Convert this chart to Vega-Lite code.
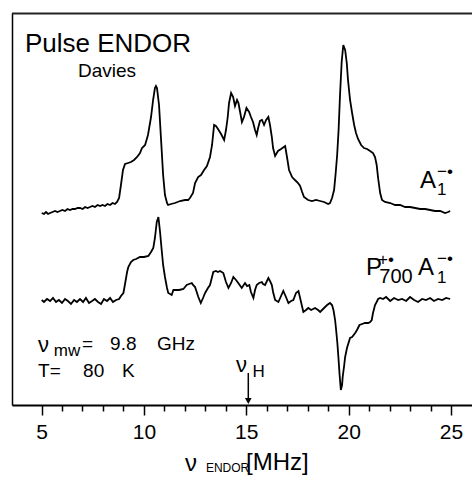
{
  "$schema": "https://vega.github.io/schema/vega-lite/v6.json",
  "width": 460,
  "height": 392,
  "autosize": "none",
  "padding": {"left": 12, "top": 13, "right": 0, "bottom": 73},
  "background": "white",
  "config": {"view": {"stroke": null}, "font": "Liberation Sans"},
  "datasets": {
    "spectra": [
      {"series":"A1","MHz":5.01,"I":192},{"series":"A1","MHz":5.12,"I":191},{"series":"A1","MHz":5.22,"I":193},{"series":"A1","MHz":5.32,"I":191},{"series":"A1","MHz":5.42,"I":192},{"series":"A1","MHz":5.54,"I":193},{"series":"A1","MHz":5.66,"I":194},{"series":"A1","MHz":5.78,"I":193},{"series":"A1","MHz":5.90,"I":194},{"series":"A1","MHz":6.02,"I":195},{"series":"A1","MHz":6.15,"I":194},{"series":"A1","MHz":6.27,"I":196},{"series":"A1","MHz":6.39,"I":195},{"series":"A1","MHz":6.52,"I":196},{"series":"A1","MHz":6.64,"I":196},{"series":"A1","MHz":6.76,"I":197},{"series":"A1","MHz":6.88,"I":197},{"series":"A1","MHz":7.01,"I":196},{"series":"A1","MHz":7.13,"I":198},{"series":"A1","MHz":7.25,"I":197},{"series":"A1","MHz":7.37,"I":198},{"series":"A1","MHz":7.49,"I":199},{"series":"A1","MHz":7.61,"I":198},{"series":"A1","MHz":7.74,"I":200},{"series":"A1","MHz":7.86,"I":199},{"series":"A1","MHz":7.98,"I":200},{"series":"A1","MHz":8.10,"I":199},{"series":"A1","MHz":8.22,"I":201},{"series":"A1","MHz":8.35,"I":200},{"series":"A1","MHz":8.47,"I":202},{"series":"A1","MHz":8.59,"I":201},{"series":"A1","MHz":8.69,"I":203},{"series":"A1","MHz":8.79,"I":207},{"series":"A1","MHz":8.88,"I":220},{"series":"A1","MHz":8.98,"I":235},{"series":"A1","MHz":9.08,"I":241},{"series":"A1","MHz":9.23,"I":242},{"series":"A1","MHz":9.37,"I":243},{"series":"A1","MHz":9.52,"I":245},{"series":"A1","MHz":9.67,"I":248},{"series":"A1","MHz":9.81,"I":252},{"series":"A1","MHz":9.91,"I":257},{"series":"A1","MHz":10.06,"I":260},{"series":"A1","MHz":10.20,"I":270},{"series":"A1","MHz":10.35,"I":288},{"series":"A1","MHz":10.45,"I":305},{"series":"A1","MHz":10.54,"I":317},{"series":"A1","MHz":10.59,"I":319},{"series":"A1","MHz":10.64,"I":317},{"series":"A1","MHz":10.74,"I":300},{"series":"A1","MHz":10.84,"I":265},{"series":"A1","MHz":10.94,"I":230},{"series":"A1","MHz":11.03,"I":210},{"series":"A1","MHz":11.13,"I":202},{"series":"A1","MHz":11.18,"I":200},{"series":"A1","MHz":11.33,"I":201},{"series":"A1","MHz":11.52,"I":202},{"series":"A1","MHz":11.77,"I":204},{"series":"A1","MHz":12.01,"I":205},{"series":"A1","MHz":12.16,"I":205},{"series":"A1","MHz":12.25,"I":207},{"series":"A1","MHz":12.40,"I":212},{"series":"A1","MHz":12.50,"I":222},{"series":"A1","MHz":12.65,"I":228},{"series":"A1","MHz":12.79,"I":230},{"series":"A1","MHz":12.94,"I":235},{"series":"A1","MHz":13.08,"I":239},{"series":"A1","MHz":13.23,"I":248},{"series":"A1","MHz":13.33,"I":260},{"series":"A1","MHz":13.43,"I":280},{"series":"A1","MHz":13.52,"I":279},{"series":"A1","MHz":13.62,"I":276},{"series":"A1","MHz":13.77,"I":271},{"series":"A1","MHz":13.92,"I":265},{"series":"A1","MHz":14.01,"I":275},{"series":"A1","MHz":14.09,"I":287},{"series":"A1","MHz":14.16,"I":302},{"series":"A1","MHz":14.26,"I":312},{"series":"A1","MHz":14.36,"I":308},{"series":"A1","MHz":14.45,"I":299},{"series":"A1","MHz":14.55,"I":305},{"series":"A1","MHz":14.62,"I":302},{"series":"A1","MHz":14.70,"I":293},{"series":"A1","MHz":14.79,"I":283},{"series":"A1","MHz":14.89,"I":288},{"series":"A1","MHz":15.01,"I":297},{"series":"A1","MHz":15.14,"I":293},{"series":"A1","MHz":15.23,"I":288},{"series":"A1","MHz":15.33,"I":283},{"series":"A1","MHz":15.43,"I":275},{"series":"A1","MHz":15.51,"I":270},{"series":"A1","MHz":15.58,"I":277},{"series":"A1","MHz":15.67,"I":284},{"series":"A1","MHz":15.77,"I":285},{"series":"A1","MHz":15.87,"I":280},{"series":"A1","MHz":15.97,"I":285},{"series":"A1","MHz":16.08,"I":288},{"series":"A1","MHz":16.16,"I":280},{"series":"A1","MHz":16.25,"I":268},{"series":"A1","MHz":16.31,"I":257},{"series":"A1","MHz":16.41,"I":249},{"series":"A1","MHz":16.55,"I":254},{"series":"A1","MHz":16.70,"I":256},{"series":"A1","MHz":16.90,"I":259},{"series":"A1","MHz":16.99,"I":248},{"series":"A1","MHz":17.09,"I":235},{"series":"A1","MHz":17.24,"I":228},{"series":"A1","MHz":17.38,"I":225},{"series":"A1","MHz":17.53,"I":222},{"series":"A1","MHz":17.63,"I":219},{"series":"A1","MHz":17.73,"I":213},{"series":"A1","MHz":17.82,"I":208},{"series":"A1","MHz":18.02,"I":205},{"series":"A1","MHz":18.21,"I":204},{"series":"A1","MHz":18.41,"I":205},{"series":"A1","MHz":18.61,"I":204},{"series":"A1","MHz":18.80,"I":203},{"series":"A1","MHz":19.00,"I":201},{"series":"A1","MHz":19.09,"I":202},{"series":"A1","MHz":19.19,"I":207},{"series":"A1","MHz":19.29,"I":215},{"series":"A1","MHz":19.36,"I":230},{"series":"A1","MHz":19.44,"I":250},{"series":"A1","MHz":19.51,"I":275},{"series":"A1","MHz":19.58,"I":310},{"series":"A1","MHz":19.66,"I":343},{"series":"A1","MHz":19.74,"I":360},{"series":"A1","MHz":19.83,"I":355},{"series":"A1","MHz":19.91,"I":342},{"series":"A1","MHz":19.97,"I":325},{"series":"A1","MHz":20.07,"I":305},{"series":"A1","MHz":20.17,"I":292},{"series":"A1","MHz":20.27,"I":280},{"series":"A1","MHz":20.36,"I":272},{"series":"A1","MHz":20.46,"I":266},{"series":"A1","MHz":20.61,"I":260},{"series":"A1","MHz":20.75,"I":257},{"series":"A1","MHz":20.90,"I":256},{"series":"A1","MHz":21.05,"I":254},{"series":"A1","MHz":21.19,"I":252},{"series":"A1","MHz":21.29,"I":248},{"series":"A1","MHz":21.37,"I":240},{"series":"A1","MHz":21.44,"I":227},{"series":"A1","MHz":21.54,"I":212},{"series":"A1","MHz":21.63,"I":205},{"series":"A1","MHz":21.78,"I":203},{"series":"A1","MHz":22.03,"I":202},{"series":"A1","MHz":22.27,"I":200},{"series":"A1","MHz":22.51,"I":200},{"series":"A1","MHz":22.76,"I":198},{"series":"A1","MHz":23.00,"I":198},{"series":"A1","MHz":23.25,"I":197},{"series":"A1","MHz":23.49,"I":196},{"series":"A1","MHz":23.74,"I":196},{"series":"A1","MHz":23.98,"I":195},{"series":"A1","MHz":24.22,"I":194},{"series":"A1","MHz":24.47,"I":194},{"series":"A1","MHz":24.71,"I":192},{"series":"A1","MHz":24.86,"I":193},{"series":"A1","MHz":24.96,"I":194},
      {"series":"P700A1","MHz":5.01,"I":105},{"series":"P700A1","MHz":5.12,"I":103},{"series":"P700A1","MHz":5.27,"I":106},{"series":"P700A1","MHz":5.42,"I":104},{"series":"P700A1","MHz":5.56,"I":107},{"series":"P700A1","MHz":5.71,"I":103},{"series":"P700A1","MHz":5.85,"I":105},{"series":"P700A1","MHz":6.00,"I":102},{"series":"P700A1","MHz":6.15,"I":106},{"series":"P700A1","MHz":6.29,"I":104},{"series":"P700A1","MHz":6.44,"I":101},{"series":"P700A1","MHz":6.59,"I":105},{"series":"P700A1","MHz":6.73,"I":103},{"series":"P700A1","MHz":6.88,"I":106},{"series":"P700A1","MHz":7.03,"I":103},{"series":"P700A1","MHz":7.17,"I":107},{"series":"P700A1","MHz":7.32,"I":102},{"series":"P700A1","MHz":7.47,"I":104},{"series":"P700A1","MHz":7.61,"I":106},{"series":"P700A1","MHz":7.76,"I":103},{"series":"P700A1","MHz":7.91,"I":101},{"series":"P700A1","MHz":8.05,"I":106},{"series":"P700A1","MHz":8.20,"I":104},{"series":"P700A1","MHz":8.35,"I":107},{"series":"P700A1","MHz":8.49,"I":103},{"series":"P700A1","MHz":8.64,"I":105},{"series":"P700A1","MHz":8.79,"I":106},{"series":"P700A1","MHz":8.88,"I":109},{"series":"P700A1","MHz":9.00,"I":112},{"series":"P700A1","MHz":9.08,"I":121},{"series":"P700A1","MHz":9.18,"I":133},{"series":"P700A1","MHz":9.24,"I":138},{"series":"P700A1","MHz":9.37,"I":143},{"series":"P700A1","MHz":9.48,"I":145},{"series":"P700A1","MHz":9.62,"I":146},{"series":"P700A1","MHz":9.81,"I":148},{"series":"P700A1","MHz":10.01,"I":148},{"series":"P700A1","MHz":10.22,"I":149},{"series":"P700A1","MHz":10.35,"I":153},{"series":"P700A1","MHz":10.46,"I":157},{"series":"P700A1","MHz":10.54,"I":167},{"series":"P700A1","MHz":10.63,"I":183},{"series":"P700A1","MHz":10.71,"I":188},{"series":"P700A1","MHz":10.79,"I":173},{"series":"P700A1","MHz":10.87,"I":155},{"series":"P700A1","MHz":10.94,"I":140},{"series":"P700A1","MHz":11.03,"I":128},{"series":"P700A1","MHz":11.13,"I":117},{"series":"P700A1","MHz":11.19,"I":112},{"series":"P700A1","MHz":11.28,"I":111},{"series":"P700A1","MHz":11.36,"I":110},{"series":"P700A1","MHz":11.44,"I":115},{"series":"P700A1","MHz":11.57,"I":115},{"series":"P700A1","MHz":11.72,"I":115},{"series":"P700A1","MHz":11.93,"I":116},{"series":"P700A1","MHz":12.09,"I":120},{"series":"P700A1","MHz":12.21,"I":121},{"series":"P700A1","MHz":12.34,"I":122},{"series":"P700A1","MHz":12.40,"I":120},{"series":"P700A1","MHz":12.50,"I":118},{"series":"P700A1","MHz":12.66,"I":108},{"series":"P700A1","MHz":12.78,"I":102},{"series":"P700A1","MHz":12.89,"I":107},{"series":"P700A1","MHz":12.99,"I":112},{"series":"P700A1","MHz":13.13,"I":117},{"series":"P700A1","MHz":13.23,"I":120},{"series":"P700A1","MHz":13.39,"I":133},{"series":"P700A1","MHz":13.52,"I":134},{"series":"P700A1","MHz":13.62,"I":133},{"series":"P700A1","MHz":13.72,"I":134},{"series":"P700A1","MHz":13.88,"I":132},{"series":"P700A1","MHz":14.01,"I":123},{"series":"P700A1","MHz":14.13,"I":117},{"series":"P700A1","MHz":14.26,"I":122},{"series":"P700A1","MHz":14.37,"I":128},{"series":"P700A1","MHz":14.50,"I":125},{"series":"P700A1","MHz":14.61,"I":122},{"series":"P700A1","MHz":14.78,"I":117},{"series":"P700A1","MHz":14.94,"I":122},{"series":"P700A1","MHz":15.04,"I":119},{"series":"P700A1","MHz":15.15,"I":120},{"series":"P700A1","MHz":15.23,"I":113},{"series":"P700A1","MHz":15.35,"I":107},{"series":"P700A1","MHz":15.43,"I":115},{"series":"P700A1","MHz":15.51,"I":120},{"series":"P700A1","MHz":15.63,"I":122},{"series":"P700A1","MHz":15.76,"I":123},{"series":"P700A1","MHz":15.82,"I":121},{"series":"P700A1","MHz":15.92,"I":120},{"series":"P700A1","MHz":16.08,"I":127},{"series":"P700A1","MHz":16.16,"I":124},{"series":"P700A1","MHz":16.25,"I":120},{"series":"P700A1","MHz":16.31,"I":113},{"series":"P700A1","MHz":16.41,"I":105},{"series":"P700A1","MHz":16.57,"I":103},{"series":"P700A1","MHz":16.70,"I":109},{"series":"P700A1","MHz":16.81,"I":114},{"series":"P700A1","MHz":16.94,"I":108},{"series":"P700A1","MHz":17.06,"I":102},{"series":"P700A1","MHz":17.19,"I":104},{"series":"P700A1","MHz":17.30,"I":105},{"series":"P700A1","MHz":17.43,"I":112},{"series":"P700A1","MHz":17.55,"I":114},{"series":"P700A1","MHz":17.63,"I":107},{"series":"P700A1","MHz":17.79,"I":93},{"series":"P700A1","MHz":17.92,"I":95},{"series":"P700A1","MHz":18.03,"I":97},{"series":"P700A1","MHz":18.17,"I":95},{"series":"P700A1","MHz":18.36,"I":97},{"series":"P700A1","MHz":18.51,"I":95},{"series":"P700A1","MHz":18.61,"I":93},{"series":"P700A1","MHz":18.80,"I":97},{"series":"P700A1","MHz":18.95,"I":100},{"series":"P700A1","MHz":19.09,"I":102},{"series":"P700A1","MHz":19.19,"I":100},{"series":"P700A1","MHz":19.26,"I":95},{"series":"P700A1","MHz":19.34,"I":85},{"series":"P700A1","MHz":19.39,"I":75},{"series":"P700A1","MHz":19.45,"I":62},{"series":"P700A1","MHz":19.50,"I":48},{"series":"P700A1","MHz":19.56,"I":30},{"series":"P700A1","MHz":19.62,"I":15},{"series":"P700A1","MHz":19.68,"I":20},{"series":"P700A1","MHz":19.71,"I":28},{"series":"P700A1","MHz":19.78,"I":39},{"series":"P700A1","MHz":19.83,"I":48},{"series":"P700A1","MHz":19.92,"I":57},{"series":"P700A1","MHz":20.07,"I":67},{"series":"P700A1","MHz":20.17,"I":68},{"series":"P700A1","MHz":20.32,"I":72},{"series":"P700A1","MHz":20.41,"I":75},{"series":"P700A1","MHz":20.53,"I":80},{"series":"P700A1","MHz":20.66,"I":81},{"series":"P700A1","MHz":20.80,"I":82},{"series":"P700A1","MHz":20.96,"I":82},{"series":"P700A1","MHz":21.05,"I":83},{"series":"P700A1","MHz":21.13,"I":85},{"series":"P700A1","MHz":21.19,"I":92},{"series":"P700A1","MHz":21.29,"I":100},{"series":"P700A1","MHz":21.37,"I":103},{"series":"P700A1","MHz":21.44,"I":106},{"series":"P700A1","MHz":21.54,"I":107},{"series":"P700A1","MHz":21.68,"I":106},{"series":"P700A1","MHz":21.83,"I":108},{"series":"P700A1","MHz":22.03,"I":104},{"series":"P700A1","MHz":22.22,"I":107},{"series":"P700A1","MHz":22.42,"I":105},{"series":"P700A1","MHz":22.61,"I":106},{"series":"P700A1","MHz":22.81,"I":104},{"series":"P700A1","MHz":23.00,"I":108},{"series":"P700A1","MHz":23.20,"I":105},{"series":"P700A1","MHz":23.39,"I":103},{"series":"P700A1","MHz":23.59,"I":106},{"series":"P700A1","MHz":23.78,"I":105},{"series":"P700A1","MHz":23.98,"I":107},{"series":"P700A1","MHz":24.17,"I":104},{"series":"P700A1","MHz":24.37,"I":106},{"series":"P700A1","MHz":24.57,"I":105},{"series":"P700A1","MHz":24.76,"I":107},{"series":"P700A1","MHz":24.96,"I":106}
    ]
  },
  "resolve": {"axis": {"x": "independent", "y": "independent"}},
  "layer": [
    {
      "data": {"name": "spectra"},
      "mark": {"type": "line", "color": "black", "strokeWidth": 1.8},
      "encoding": {
        "x": {"field": "MHz", "type": "quantitative",
          "scale": {"domain": [3.559, 26.026], "nice": false, "zero": false},
          "axis": {"values": [5,6,7,8,9,10,11,12,13,14,15,16,17,18,19,20,21,22,23,24,25],
            "labelExpr": "datum.value % 5 === 0 ? datum.label : ''",
            "tickSize": {"condition": {"test": "datum.value % 5 === 0", "value": 10}, "value": 6},
            "tickColor": "black", "tickWidth": 1.5, "domainColor": "black", "domainWidth": 1.8,
            "labelFont": "Liberation Sans", "labelFontSize": 21, "labelColor": "black", "labelPadding": 6,
            "labelFlush": false, "labelOverlap": false, "grid": false, "title": null}},
        "y": {"field": "I", "type": "quantitative",
          "scale": {"domain": [0, 392], "nice": false, "zero": false},
          "axis": {"labels": false, "ticks": false, "grid": false, "title": null, "domainColor": "black", "domainWidth": 1.5}},
        "detail": {"field": "series"}
      }
    },
    {
      "data": {"values": [{"start": 3.559, "end": 26.026, "I": 391.5}]},
      "mark": {"type": "rule", "color": "#222", "strokeWidth": 2},
      "encoding": {
        "x": {"field": "start", "type": "quantitative", "axis": null},
        "x2": {"field": "end"},
        "y": {"field": "I", "type": "quantitative", "axis": null}
      }
    },
    {
      "data": {"values": [{"MHz": 15.1, "I0": 4, "I1": 32}]},
      "mark": {"type": "rule", "color": "black", "strokeWidth": 1.5},
      "encoding": {
        "x": {"field": "MHz", "type": "quantitative", "axis": null},
        "y": {"field": "I0", "type": "quantitative", "axis": null},
        "y2": {"field": "I1"}
      }
    },
    {
      "data": {"values": [{"MHz": 15.1, "I": 4}]},
      "mark": {"type": "point", "shape": "triangle-down", "filled": true, "color": "black", "size": 45, "opacity": 1},
      "encoding": {
        "x": {"field": "MHz", "type": "quantitative", "axis": null},
        "y": {"field": "I", "type": "quantitative", "axis": null}
      }
    },
    {
      "data": {"values": [{"text": "Pulse ENDOR", "MHz": 4.19, "I": 353}]},
      "mark": {"type": "text", "align": "left", "baseline": "alphabetic", "font": "Liberation Sans", "fontSize": 26, "color": "black"},
      "encoding": {
        "x": {"field": "MHz", "type": "quantitative", "axis": null},
        "y": {"field": "I", "type": "quantitative", "axis": null},
        "text": {"field": "text"}
      }
    },
    {
      "data": {"values": [
        {"text": "Davies", "MHz": 6.78, "I": 328},
        {"text": "=", "MHz": 6.98, "I": 55},
        {"text": "9.8", "MHz": 8.35, "I": 55},
        {"text": "GHz", "MHz": 10.64, "I": 55},
        {"text": "T=", "MHz": 4.83, "I": 28},
        {"text": "80", "MHz": 7.03, "I": 28},
        {"text": "K", "MHz": 8.93, "I": 28}
      ]},
      "mark": {"type": "text", "align": "left", "baseline": "alphabetic", "font": "Liberation Sans", "fontSize": 19, "color": "black"},
      "encoding": {
        "x": {"field": "MHz", "type": "quantitative", "axis": null},
        "y": {"field": "I", "type": "quantitative", "axis": null},
        "text": {"field": "text"}
      }
    },
    {
      "data": {"values": [
        {"text": "A", "MHz": 23.49, "I": 217},
        {"text": "P", "MHz": 20.85, "I": 130},
        {"text": "A", "MHz": 23.39, "I": 130},
        {"text": "ν", "MHz": 12.01, "I": -66},
        {"text": "[MHz]", "MHz": 14.99, "I": -65}
      ]},
      "mark": {"type": "text", "align": "left", "baseline": "alphabetic", "font": "Liberation Sans", "fontSize": 24, "color": "black"},
      "encoding": {
        "x": {"field": "MHz", "type": "quantitative", "axis": null},
        "y": {"field": "I", "type": "quantitative", "axis": null},
        "text": {"field": "text"}
      }
    },
    {
      "data": {"values": [
        {"text": "ν", "MHz": 4.83, "I": 53},
        {"text": "ν", "MHz": 14.5, "I": 33}
      ]},
      "mark": {"type": "text", "align": "left", "baseline": "alphabetic", "font": "Liberation Sans", "fontSize": 22, "color": "black"},
      "encoding": {
        "x": {"field": "MHz", "type": "quantitative", "axis": null},
        "y": {"field": "I", "type": "quantitative", "axis": null},
        "text": {"field": "text"}
      }
    },
    {
      "data": {"values": [
        {"text": "1", "MHz": 24.32, "I": 210},
        {"text": "−•", "MHz": 24.32, "I": 228},
        {"text": "+•", "MHz": 21.44, "I": 140},
        {"text": "1", "MHz": 24.32, "I": 122},
        {"text": "−•", "MHz": 24.32, "I": 141},
        {"text": "mw", "MHz": 5.6, "I": 49},
        {"text": "H", "MHz": 15.3, "I": 28}
      ]},
      "mark": {"type": "text", "align": "left", "baseline": "alphabetic", "font": "Liberation Sans", "fontSize": 17, "color": "black"},
      "encoding": {
        "x": {"field": "MHz", "type": "quantitative", "axis": null},
        "y": {"field": "I", "type": "quantitative", "axis": null},
        "text": {"field": "text"}
      }
    },
    {
      "data": {"values": [{"text": "700", "MHz": 21.5, "I": 122}]},
      "mark": {"type": "text", "align": "left", "baseline": "alphabetic", "font": "Liberation Sans", "fontSize": 20, "color": "black"},
      "encoding": {
        "x": {"field": "MHz", "type": "quantitative", "axis": null},
        "y": {"field": "I", "type": "quantitative", "axis": null},
        "text": {"field": "text"}
      }
    },
    {
      "data": {"values": [{"text": "ENDOR", "MHz": 13.03, "I": -67}]},
      "mark": {"type": "text", "align": "left", "baseline": "alphabetic", "font": "Liberation Sans", "fontSize": 12, "color": "black"},
      "encoding": {
        "x": {"field": "MHz", "type": "quantitative", "axis": null},
        "y": {"field": "I", "type": "quantitative", "axis": null},
        "text": {"field": "text"}
      }
    }
  ]
}
